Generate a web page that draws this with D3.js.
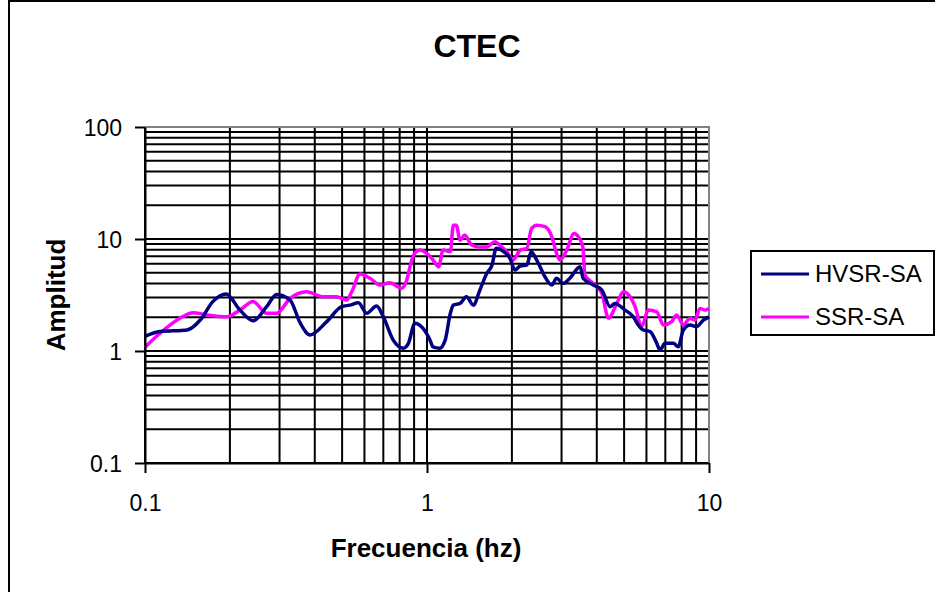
<!DOCTYPE html>
<html>
<head>
<meta charset="utf-8">
<script src="https://cdn.jsdelivr.net/npm/d3@7"></script>
<style>
  body { margin: 0; background: #fff; }
  text { font-family: Arial, "Liberation Sans", sans-serif; fill: #000; }
</style>
</head>
<body>
<div class="chart"></div>
<script>
var svgWidth = 935;
var svgHeight = 592;

// frequency (hz) and amplitude
var hvsrFreq = [0.1, 0.113, 0.141, 0.157, 0.174, 0.194, 0.217, 0.242, 0.27, 0.293, 0.327, 0.355, 0.385, 0.441, 0.498, 0.533, 0.571, 0.611, 0.663, 0.7, 0.759, 0.824, 0.859, 0.906, 0.968, 1.025, 1.05, 1.11, 1.16, 1.21, 1.24, 1.31, 1.38, 1.46, 1.54, 1.63, 1.7, 1.76, 1.87, 1.97, 2.05, 2.14, 2.26, 2.34, 2.45, 2.62, 2.77, 2.88, 3.04, 3.21, 3.49, 3.58, 3.89, 4.17, 4.46, 4.64, 5.04, 5.39, 5.61, 5.85, 6.18, 6.53, 6.7, 6.98, 7.47, 7.78, 8.11, 8.57, 9.04, 9.55, 10];
var hvsrAmp = [1.35, 1.49, 1.54, 1.89, 2.76, 3.23, 2.32, 1.86, 2.49, 3.2, 2.85, 1.78, 1.39, 1.83, 2.49, 2.57, 2.7, 2.17, 2.52, 2.02, 1.25, 1.06, 1.17, 1.77, 1.59, 1.25, 1.09, 1.06, 1.25, 2.17, 2.57, 2.66, 3.05, 2.57, 3.5, 4.94, 5.85, 8.26, 7.7, 6.7, 5.28, 5.74, 5.85, 7.7, 6.49, 4.6, 3.88, 4.46, 4.02, 4.46, 5.66, 4.46, 3.88, 3.5, 2.49, 2.66, 2.32, 2.02, 1.71, 1.54, 1.49, 1.17, 1.02, 1.17, 1.17, 1.09, 1.54, 1.71, 1.65, 1.89, 2.02];

var ssrFreq = [0.1, 0.113, 0.133, 0.148, 0.166, 0.195, 0.217, 0.242, 0.27, 0.293, 0.327, 0.374, 0.429, 0.478, 0.519, 0.541, 0.579, 0.628, 0.681, 0.739, 0.813, 0.847, 0.883, 0.906, 0.944, 0.998, 1.05, 1.1, 1.14, 1.21, 1.24, 1.27, 1.31, 1.36, 1.44, 1.52, 1.63, 1.74, 1.84, 1.94, 2.02, 2.14, 2.26, 2.35, 2.45, 2.62, 2.77, 2.88, 2.96, 3.13, 3.32, 3.44, 3.57, 3.63, 3.89, 4.17, 4.4, 4.71, 4.97, 5.25, 5.47, 5.77, 6.09, 6.53, 6.89, 7.38, 7.68, 8.11, 8.57, 8.92, 9.29, 9.68, 10];
var ssrAmp = [1.08, 1.44, 1.96, 2.2, 2.1, 2.02, 2.32, 2.76, 2.17, 2.17, 2.95, 3.38, 3.05, 3.05, 2.85, 3.38, 4.87, 4.46, 3.88, 4.07, 3.63, 4.3, 6.49, 7.5, 7.96, 7.44, 6.49, 5.66, 7.96, 7.7, 13.3, 13.3, 9.77, 10.85, 8.83, 8.5, 8.5, 9.47, 8.5, 7.44, 6.49, 7.96, 8.26, 12.45, 13.3, 12.9, 10.5, 7.44, 6.49, 7.96, 11.2, 10.5, 8.5, 4.77, 4.02, 3.27, 1.96, 2.66, 3.38, 3.05, 2.49, 1.65, 2.32, 2.24, 1.71, 1.83, 2.1, 1.71, 1.96, 1.89, 2.4, 2.32, 2.4];

var seriesNames = ["HVSR-SA", "SSR-SA"];
var seriesColors = ["#000080", "#ff00ff"];
var xTicks = [0.1, 1, 10];
var yTicks = [0.1, 1, 10, 100];

var plot = { left: 145, right: 709, top: 127, bottom: 463 };

var svg = d3.select(".chart")
  .append("svg")
  .attr("width", svgWidth)
  .attr("height", svgHeight);

// outer chart frame (runs off the right and bottom edges)
svg.append("rect")
  .attr("x", 9)
  .attr("y", 1)
  .attr("width", 1000)
  .attr("height", 700)
  .attr("fill", "none")
  .attr("stroke", "#000")
  .attr("stroke-width", 2);

var xScale = d3.scaleLog().domain([0.1, 10]).range([plot.left, plot.right]);
var yScale = d3.scaleLog().domain([0.1, 100]).range([plot.bottom, plot.top]);

// grid lines, every 1..9 in each decade
var grid = svg.append("g").attr("class", "grid");
grid.selectAll(".vgrid")
  .data(xScale.ticks())
  .enter()
  .append("line")
  .attr("x1", function(d) { return xScale(d); })
  .attr("x2", function(d) { return xScale(d); })
  .attr("y1", plot.top)
  .attr("y2", plot.bottom)
  .attr("stroke", "#000")
  .attr("stroke-width", 2);

grid.selectAll(".hgrid")
  .data(yScale.ticks())
  .enter()
  .append("line")
  .attr("x1", plot.left)
  .attr("x2", plot.right)
  .attr("y1", function(d) { return yScale(d); })
  .attr("y2", function(d) { return yScale(d); })
  .attr("stroke", "#000")
  .attr("stroke-width", 2);

// grey plot border on top and right
svg.append("path")
  .attr("d", "M" + plot.left + "," + plot.top + "H" + plot.right + "V" + plot.bottom)
  .attr("fill", "none")
  .attr("stroke", "#808080")
  .attr("stroke-width", 2);

// lines
var line = d3.line()
  .x(function(d) { return xScale(d[0]); })
  .y(function(d) { return yScale(d[1]); })
  .curve(d3.curveMonotoneX);

var seriesData = [
  d3.zip(hvsrFreq, hvsrAmp),
  d3.zip(ssrFreq, ssrAmp)
];

// pink drawn first so the navy shows on top where they cross
[1, 0].forEach(function(i) {
  svg.append("path")
    .datum(seriesData[i])
    .attr("d", line)
    .attr("fill", "none")
    .attr("stroke", seriesColors[i])
    .attr("stroke-width", 3.5)
    .attr("stroke-linejoin", "round");
});

// axes
var fmt = function(d) { return d3.format("~g")(d); };

var xAxis = svg.append("g")
  .attr("transform", "translate(0," + plot.bottom + ")")
  .call(d3.axisBottom(xScale).tickValues(xTicks).tickFormat(fmt).tickSize(10).tickSizeOuter(0).tickPadding(22));

var yAxis = svg.append("g")
  .attr("transform", "translate(" + plot.left + ",0)")
  .call(d3.axisLeft(yScale).tickValues(yTicks).tickFormat(fmt).tickSize(10).tickSizeOuter(0).tickPadding(13));

[xAxis, yAxis].forEach(function(ax) {
  ax.attr("font-size", null).attr("font-family", null);
  ax.selectAll("path").attr("stroke", "#000").attr("stroke-width", 2);
  ax.selectAll("line").attr("stroke", "#000").attr("stroke-width", 2);
  ax.selectAll("text")
    .style("font-family", "Arial, 'Liberation Sans', sans-serif")
    .style("font-size", "23px")
    .attr("fill", "#000");
});
yAxis.selectAll("text").attr("dy", "0.35em");

// titles
svg.append("text")
  .attr("x", 477)
  .attr("y", 57)
  .attr("text-anchor", "middle")
  .style("font-size", "32px")
  .attr("font-weight", "bold")
  .text("CTEC");

svg.append("text")
  .attr("x", 426)
  .attr("y", 557)
  .attr("text-anchor", "middle")
  .style("font-size", "26px")
  .attr("font-weight", "bold")
  .text("Frecuencia (hz)");

svg.append("text")
  .attr("transform", "translate(65,295) rotate(-90)")
  .attr("text-anchor", "middle")
  .style("font-size", "26px")
  .attr("font-weight", "bold")
  .text("Amplitud");

// legend
var legend = svg.append("g").attr("class", "legend");
legend.append("rect")
  .attr("x", 751)
  .attr("y", 251)
  .attr("width", 183)
  .attr("height", 84)
  .attr("fill", "#fff")
  .attr("stroke", "#000")
  .attr("stroke-width", 2);

seriesNames.forEach(function(name, i) {
  var ly = 274 + i * 43;
  legend.append("line")
    .attr("x1", 761)
    .attr("x2", 809)
    .attr("y1", ly)
    .attr("y2", ly)
    .attr("stroke", seriesColors[i])
    .attr("stroke-width", 3);
  legend.append("text")
    .attr("x", 815)
    .attr("y", ly)
    .attr("dy", "0.35em")
    .style("font-size", "24px")
    .text(name);
});
</script>
</body>
</html>
